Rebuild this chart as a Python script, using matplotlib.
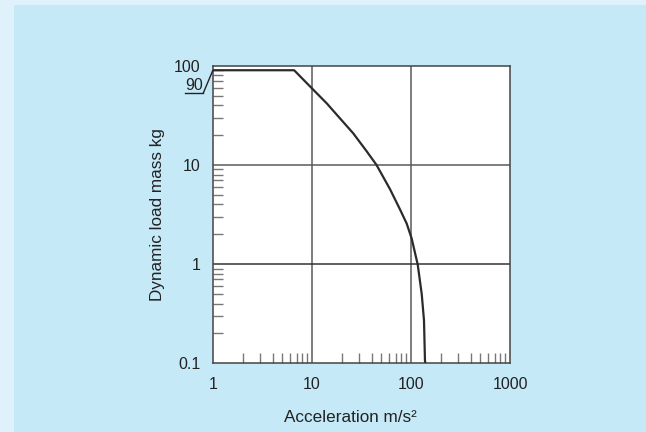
import numpy as np
import matplotlib
matplotlib.use("Agg")
import matplotlib.pyplot as plt
from matplotlib.patches import Rectangle
from matplotlib.lines import Line2D
from matplotlib.ticker import LogLocator, NullFormatter, FixedLocator

plt.rcParams['font.family'] = ['Liberation Sans', 'DejaVu Sans']

# curve (acceleration m/s^2, mass kg)
accel = [1, 6.6, 10, 14.1, 19.2, 26.1, 35.7, 44.8, 61.4, 77.4, 90.5,
         101.6, 116.9, 128.3, 135.3, 138.4, 140]
mass = [90, 90, 59, 41.7, 29.4, 20.8, 13.7, 10.0, 5.69, 3.56, 2.56,
        1.81, 0.99, 0.50, 0.27, 0.106, 0.1]

x_ticks = [1, 10, 100, 1000]
x_labels = ["1", "10", "100", "1000"]
y_ticks = [0.1, 1, 10, 100]
y_labels = ["0.1", "1", "10", "100"]

outer_col = "#dff2fb"
panel_col = "#c6e9f8"
line_col = "#2b2b2b"
grid_col = "#5a5a5a"
text_col = "#222222"

fig = plt.figure(figsize=(6.46, 4.32), dpi=100, facecolor=outer_col)
fig.patches.append(Rectangle((14/646, 0), 1, 1 - 5/432, transform=fig.transFigure,
                             facecolor=panel_col, edgecolor="none", zorder=-10))

W, H = 646.0, 432.0
left, right, top, bottom = 213.0, 510.0, 65.7, 363.3
ax = fig.add_axes([left/W, 1 - bottom/H, (right-left)/W, (bottom-top)/H])
ax.set_facecolor("white")
ax.set_xscale("log")
ax.set_yscale("log")
ax.set_xlim(1, 1000)
ax.set_ylim(0.1, 100)

ax.plot(accel, mass, color=line_col, lw=1.6, solid_joinstyle="round", zorder=3)

# grid at decades
for xv in [10, 100]:
    ax.axvline(xv, color=grid_col, lw=1.1, zorder=2)
for yv in [1, 10]:
    ax.axhline(yv, color="#333333" if yv == 1 else grid_col, lw=1.1, zorder=2)

ax.xaxis.set_major_locator(FixedLocator(x_ticks))
ax.set_xticklabels(x_labels)
ax.yaxis.set_major_locator(FixedLocator(y_ticks))
ax.set_yticklabels(y_labels)
ax.xaxis.set_minor_locator(LogLocator(base=10, subs=np.arange(2, 10)))
ax.yaxis.set_minor_locator(LogLocator(base=10, subs=np.arange(2, 10)))
ax.xaxis.set_minor_formatter(NullFormatter())
ax.yaxis.set_minor_formatter(NullFormatter())

ax.tick_params(which="major", length=0, labelsize=11.5, colors=text_col, pad=9)
ax.tick_params(axis="x", which="major", pad=10)
ax.tick_params(which="minor", direction="in", length=7, width=1, color="#777777",
               top=False, right=False)

for s in ax.spines.values():
    s.set_color("#444444")
    s.set_linewidth(1.1)

# "90" marker with leader line
fig.text(194/W, 1 - 85/H, "90", ha="center", va="center", fontsize=11.5, color=text_col)
fig.add_artist(Line2D([185/W, 203.3/W], [1 - 93/H, 1 - 93/H], color=text_col, lw=1))
fig.add_artist(Line2D([203.3/W, 212.7/W], [1 - 93/H, 1 - 70.7/H], color=text_col, lw=1))

ax.set_xlabel("Acceleration m/s²", fontsize=12.3, color=text_col)
ax.xaxis.set_label_coords(0.461, -0.156)
ax.set_ylabel("Dynamic load mass kg", fontsize=12.3, color=text_col)
ax.yaxis.set_label_coords(-0.162, 0.5)

fig.savefig("out.png", dpi=100, facecolor=fig.get_facecolor())
